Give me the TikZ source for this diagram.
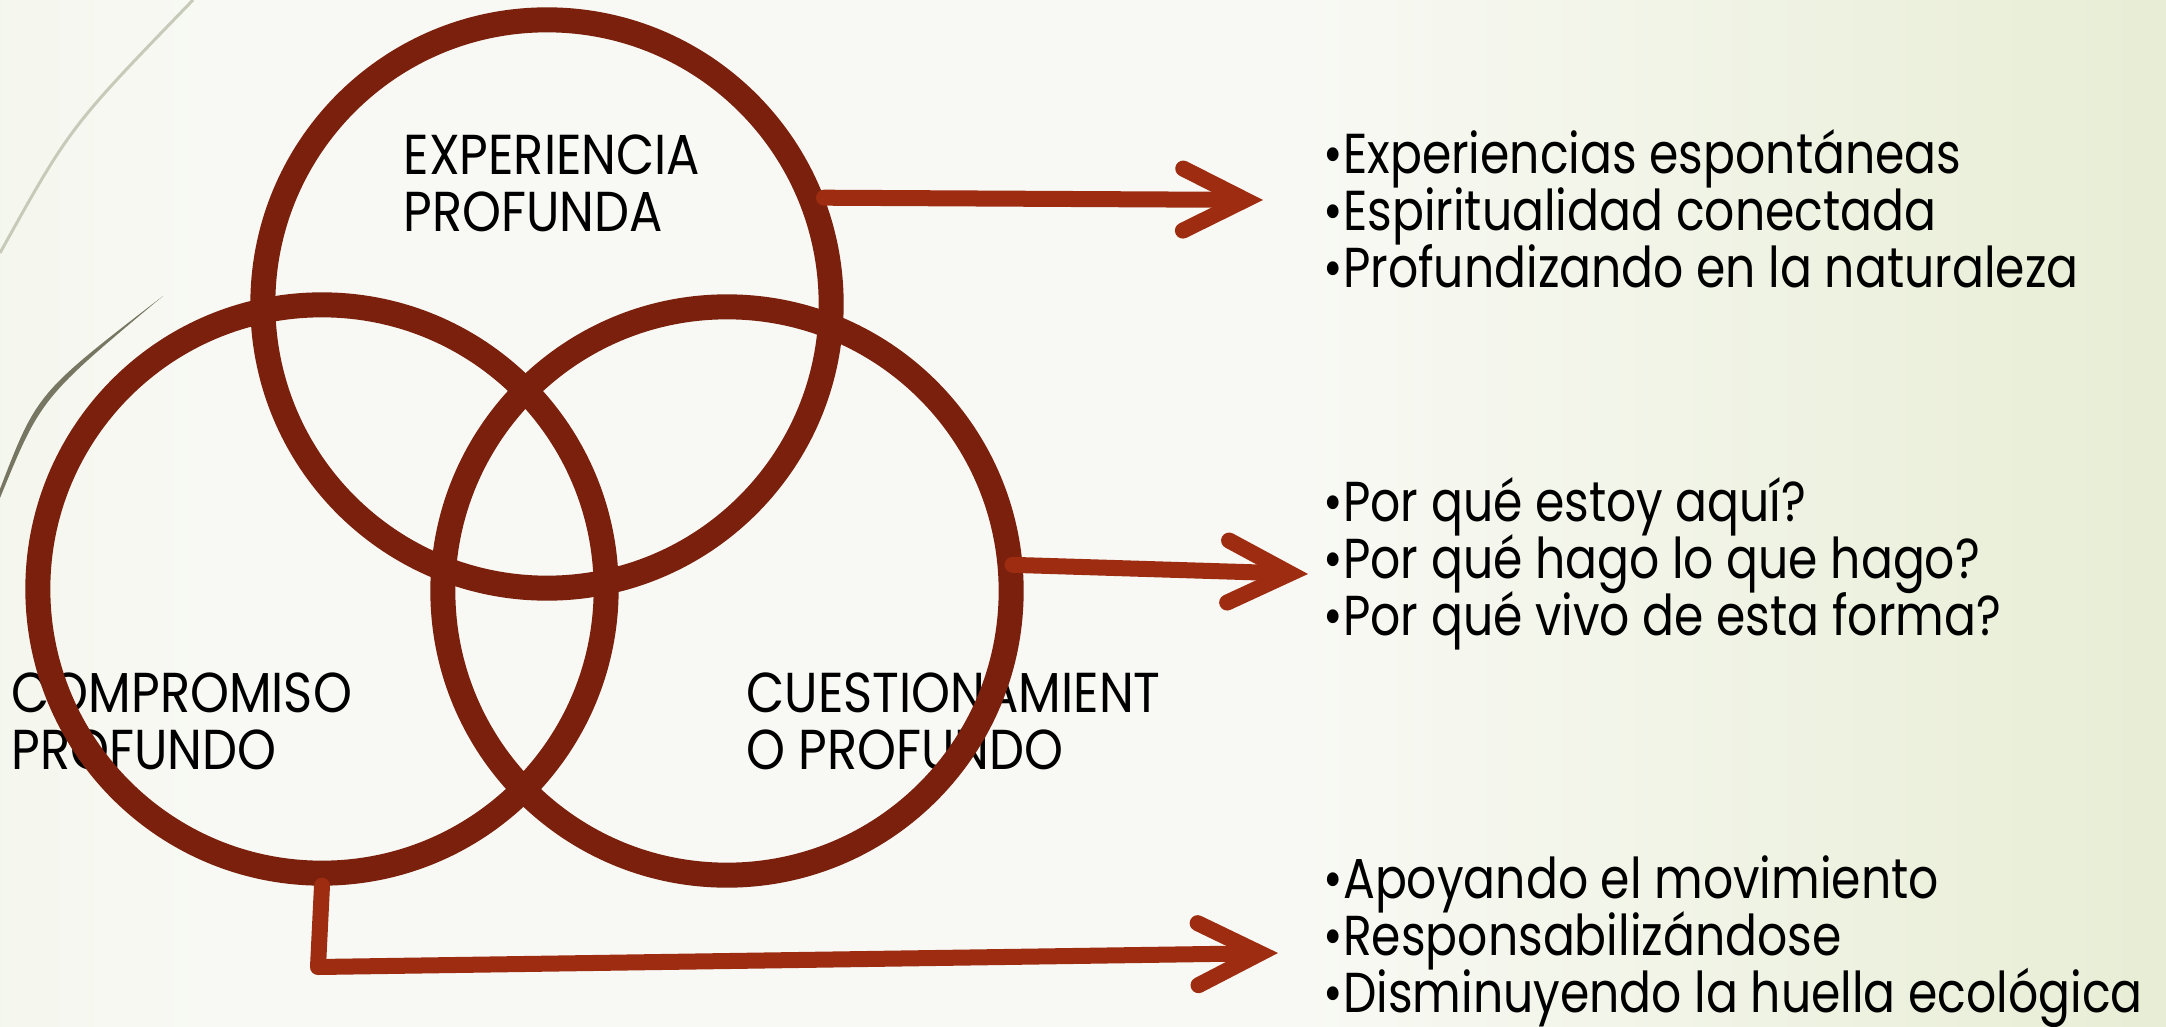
\documentclass[tikz,border=0pt]{standalone}
\usepackage{fontspec}
\setmainfont{Poppins}[FakeStretch=0.84]
\newfontfamily\capsfont{Poppins}[FakeStretch=0.88]
\usetikzlibrary{arrows.meta}
\definecolor{ringred}{RGB}{122,32,12}
\definecolor{arrowred}{RGB}{158,44,16}
\definecolor{bgleft}{RGB}{226,234,207}
\definecolor{bgmid}{RGB}{248,249,244}
\definecolor{bgright}{RGB}{211,223,174}
\definecolor{swishlight}{RGB}{200,202,185}
\definecolor{swishdark}{RGB}{118,118,98}
\pgfdeclarehorizontalshading{slidebg}{100bp}{color(0bp)=(bgleft); color(30bp)=(bgmid);
  color(55bp)=(bgmid); color(100bp)=(bgright)}
\newcommand\listfont{\fontsize{16}{16.2}\selectfont\lineskiplimit=-100pt\relax}
\tikzset{
    mycircle/.style = {circle, draw=ringred, line width=0.25cm, minimum size=5.68cm, inner sep=0pt},
    mylabel/.style = {anchor=base west, align=left, inner sep=0pt, text=black, font=\capsfont\fontsize{16}{16.2}\selectfont},
    mylist/.style = {anchor=base west, align=left, inner sep=0pt, text=black, font=\listfont},
    myarrow/.style = {draw=arrowred, line width=0.16cm, line cap=round, line join=round,
      -{Straight Barb[length=0.62cm, width=0.62cm, line cap=round, line join=miter]}}
}

\begin{document}
\begin{tikzpicture}[x=0.01cm, y=-0.01cm]
  \useasboundingbox (0,0) rectangle (2166,1027);
  \shade[shading=slidebg] (0,0) rectangle (2166,1027);
  % swishes
  \draw[swishlight, line width=0.03cm] (0,253) .. controls (70,127) .. (193,0);
  \fill[swishdark] (0,489) .. controls (37,393) .. (163,296) .. controls (41,398) .. (0,498) -- cycle;
  % labels under the rings
  \node[mylabel] (lexp) at (403,231) {EXPERIENCIA\\PROFUNDA};
  \node[mylabel] (lcom) at (11,769) {COMPROMISO\\PROFUNDO};
  \node[mylabel] (lcue) at (746,769) {CUESTIONAMIENT\\O PROFUNDO};
  % rings
  \node[mycircle] (ecirc) at (547,304) {};
  \node[mycircle] (lcirc) at (322,589) {};
  \node[mycircle] (rcirc) at (727,591) {};
  % arrow ends
  \coordinate (t1) at (1263,200);
  \coordinate (t2) at (1308,574);
  \coordinate (c3) at (318,967);
  \coordinate (t3) at (1278,953);
  \draw[myarrow] (ecirc.21) -- (t1);
  \draw[myarrow, shorten <=-0.1cm] (rcirc.5) -- (t2);
  \draw[myarrow] (lcirc.south) -- (c3) -- (t3);
  % lists
  \node[mylist] (list1) at (1323,287) {•Experiencias espontáneas\\•Espiritualidad conectada\\•Profundizando en la naturaleza};
  \node[mylist] (list2) at (1323,635) {•Por qué estoy aquí?\\•Por qué hago lo que hago?\\•Por qué vivo de esta forma?};
  \node[mylist] (list3) at (1323,1012) {•Apoyando el movimiento\\•Responsabilizándose\\•Disminuyendo la huella ecológica};
\end{tikzpicture}
\end{document}
